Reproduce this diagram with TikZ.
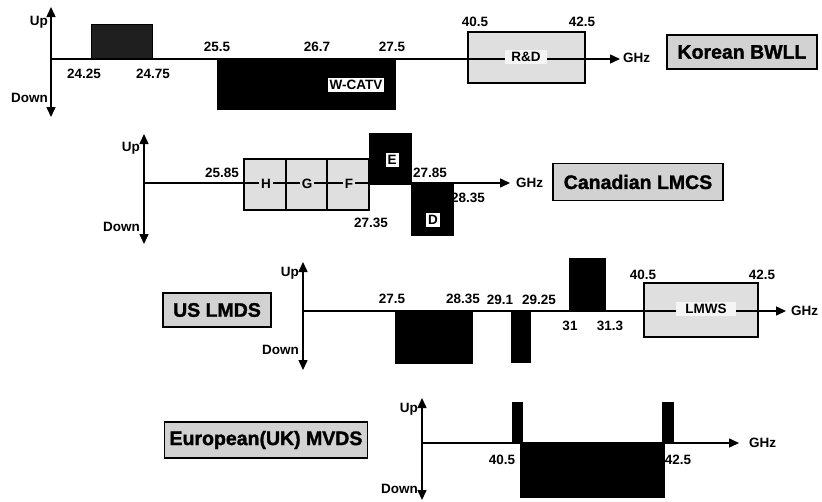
\documentclass[tikz,border=0pt]{standalone}
\usepackage{fontspec}
\setmainfont{Liberation Sans}
\newfontfamily\ttlfont[FakeBold=1.5]{Liberation Sans Bold}
\usetikzlibrary{arrows.meta}
\tikzset{
  lbl/.style={font=\fontsize{13.5}{14}\selectfont\bfseries, inner sep=0pt},
  ttl/.style={draw, line width=1.2pt, fill=gray!35, font=\fontsize{19.5}{21}\ttlfont, inner sep=0pt},
  axisln/.style={line width=1.5pt},
  harrow/.style={axisln, -{Triangle[length=10pt,width=9pt]}},
  varrow/.style={axisln, {Triangle[length=10pt,width=9pt]}-{Triangle[length=10pt,width=9pt]}},
  blk/.style={fill=black, draw=black, line width=1pt},
  lite/.style={fill=gray!25, draw=black, line width=1.5pt},
  wlbl/.style={lbl, fill=white, inner sep=2pt},
  glbl/.style={lbl, fill=gray!25, inner xsep=2pt, inner ysep=1pt},
}
\begin{document}
\begin{tikzpicture}[x=1pt,y=-1pt]
\useasboundingbox (0,0) rectangle (822,501);

% ---------------- Panel 1: Korean BWLL ----------------
\coordinate (o1) at (51,59);
\coordinate (t1) at (51,7);
\coordinate (b1) at (51,117);
\coordinate (e1) at (620,59);
\draw[blk, fill=black!88] (91,24) rectangle (152,59);
\draw[blk] (217,59) rectangle (395,109);
\draw[lite] (468,32) rectangle (585,83);
\draw[harrow] (o1) -- (e1);
\draw[varrow] (b1) -- (t1);
\node[lbl, anchor=east] (up1) at (48,22) {Up};
\node[lbl, anchor=east] (dn1) at (48,98) {Down};
\node[lbl] (l2425) at (84,74) {24.25};
\node[lbl] (l2475) at (153,74) {24.75};
\node[lbl] (l255) at (217,47) {25.5};
\node[lbl] (l267) at (317,47) {26.7};
\node[lbl] (l275a) at (392,47) {27.5};
\node[wlbl] (wcatv) at (356,85) {W-CATV};
\node[wlbl, inner xsep=6pt, fill=gray!8] (rd) at (526,57) {R\&D};
\node[lbl] (l405a) at (475,22) {40.5};
\node[lbl] (l425a) at (582,22) {42.5};
\node[lbl, anchor=west] (ghz1) at (623,58) {GHz};
\node[ttl, minimum width=150, minimum height=34] (kor) at (742,52) {Korean BWLL};

% ---------------- Panel 2: Canadian LMCS ----------------
\coordinate (o2) at (144,183);
\coordinate (t2) at (144,134);
\coordinate (b2) at (144,244);
\coordinate (e2) at (510,183);
\draw[lite] (244,159) rectangle (369,210);
\draw[axisln] (286,159) -- (286,210);
\draw[axisln] (327,159) -- (327,210);
\draw[blk] (369,133) rectangle (411,184);
\draw[blk] (411,184) rectangle (453,235);
\draw[harrow] (o2) -- (e2);
\draw[varrow] (b2) -- (t2);
\node[lbl, anchor=east] (up2) at (140,148) {Up};
\node[lbl, anchor=east] (dn2) at (140,227) {Down};
\node[glbl] (h) at (266,184) {H};
\node[glbl] (g) at (307,184) {G};
\node[glbl] (f) at (349,184) {F};
\node[wlbl] (e) at (392,160) {E};
\node[wlbl] (d) at (433,220) {D};
\node[lbl] (l2585) at (222,173) {25.85};
\node[lbl] (l2785) at (430,173) {27.85};
\node[lbl] (l2835a) at (468,198) {28.35};
\node[lbl] (l2735) at (371,223) {27.35};
\node[lbl, anchor=west] (ghz2) at (516,183) {GHz};
\node[ttl, minimum width=170, minimum height=37] (can) at (638,182) {Canadian LMCS};

% ---------------- Panel 3: US LMDS ----------------
\coordinate (o3) at (303,311);
\coordinate (t3) at (303,262);
\coordinate (b3) at (303,370);
\coordinate (e3) at (786,311);
\draw[blk] (395,311) rectangle (472,363);
\draw[blk] (511,311) rectangle (530,362);
\draw[blk] (569,258) rectangle (605,311);
\draw[lite] (644,283) rectangle (758,337);
\draw[harrow] (o3) -- (e3);
\draw[varrow] (b3) -- (t3);
\node[lbl, anchor=east] (up3) at (299,273) {Up};
\node[lbl, anchor=east] (dn3) at (299,350) {Down};
\node[lbl] (l275b) at (392,299) {27.5};
\node[lbl] (l2835b) at (463,299) {28.35};
\node[lbl] (l291) at (500,300) {29.1};
\node[lbl] (l2925) at (539,300) {29.25};
\node[lbl] (l31) at (570,326) {31};
\node[lbl] (l313) at (610,326) {31.3};
\node[lbl] (l405b) at (643,275) {40.5};
\node[lbl] (l425b) at (762,275) {42.5};
\node[wlbl, inner xsep=9pt, fill=gray!8] (lmws) at (706,309) {LMWS};
\node[lbl, anchor=west] (ghz3) at (791,311) {GHz};
\node[ttl, minimum width=108, minimum height=34] (us) at (217,310) {US LMDS};

% ---------------- Panel 4: European(UK) MVDS ----------------
\coordinate (o4) at (422,443);
\coordinate (t4) at (422,398);
\coordinate (b4) at (422,500);
\coordinate (e4) at (739,443);
\draw[blk] (512,402) rectangle (522,443);
\draw[blk] (520,443) rectangle (664,497);
\draw[blk] (662,402) rectangle (673,443);
\draw[harrow] (o4) -- (e4);
\draw[varrow] (b4) -- (t4);
\node[lbl, anchor=east] (up4) at (418,409) {Up};
\node[lbl, anchor=east] (dn4) at (418,489) {Down};
\node[lbl] (l405c) at (502,460) {40.5};
\node[lbl] (l425c) at (678,460) {42.5};
\node[lbl, anchor=west] (ghz4) at (749,443) {GHz};
\node[ttl, minimum width=203, minimum height=36] (eu) at (266,440) {European(UK) MVDS};
\end{tikzpicture}
\end{document}
